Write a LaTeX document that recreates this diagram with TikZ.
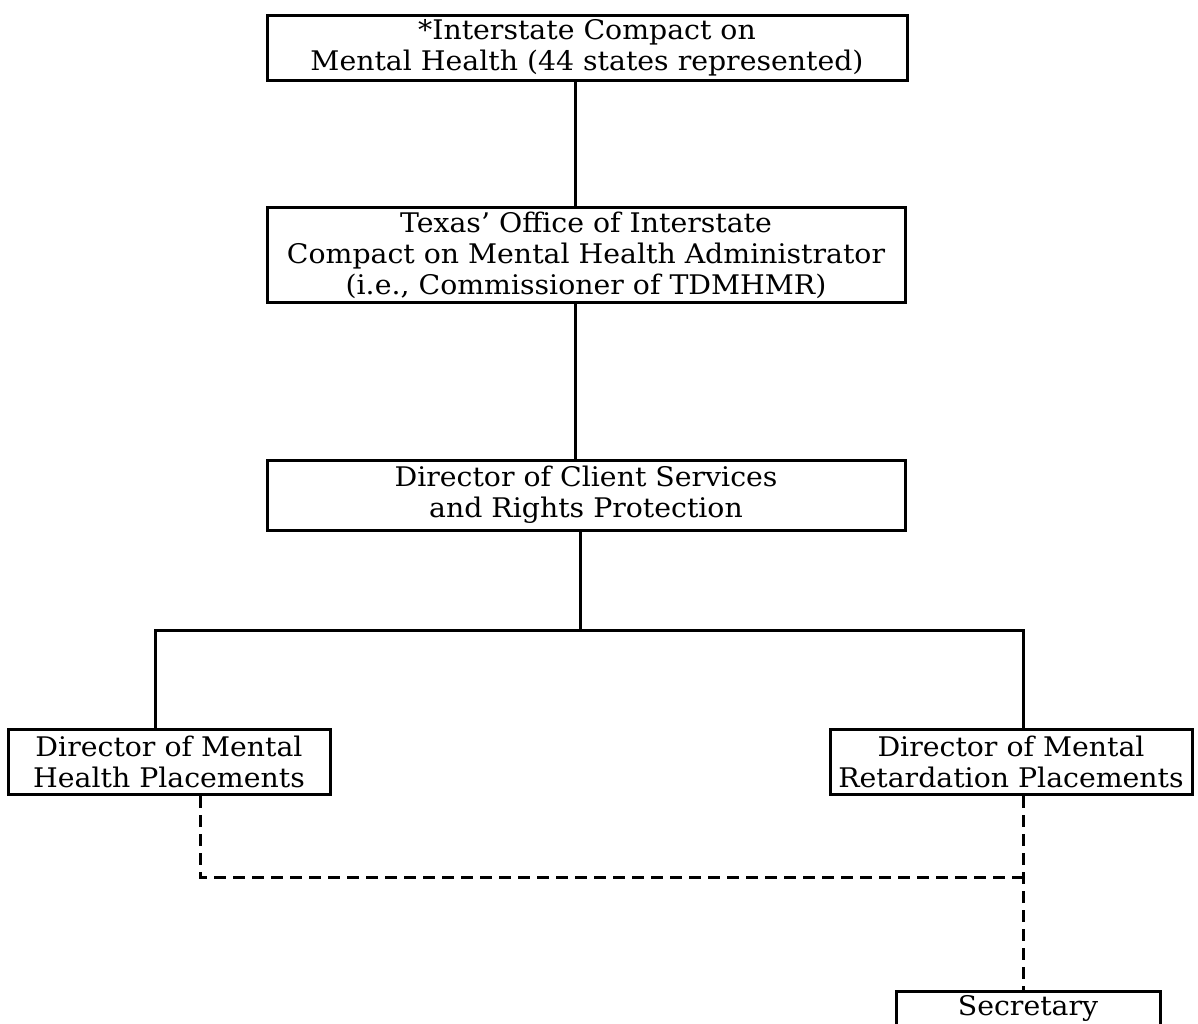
\documentclass[tikz,border=0pt]{standalone}
\usepackage{fontspec}
\setmainfont{DejaVu Serif}[FakeStretch=1.05]
\usetikzlibrary{calc}

\tikzset{
  orgbox/.style={draw, line width=3pt, align=center, inner sep=0pt,
    font=\fontsize{27}{31}\selectfont},
  link/.style={line width=3pt},
  dashlink/.style={line width=3pt, dash pattern=on 12pt off 7pt}
}

\begin{document}
\begin{tikzpicture}[x=1pt,y=-1pt]
  \useasboundingbox (0,0) rectangle (1198,1024);
  % top of the chart
  \node[orgbox, minimum width=640pt, minimum height=65pt] (compact) at (587,48)
    {*Interstate Compact on\\Mental Health (44 states represented)};
  \node[orgbox, minimum width=638pt, minimum height=95pt] (office) at (586,255)
    {Texas' Office of Interstate\\Compact on Mental Health Administrator\\(i.e., Commissioner of TDMHMR)};
  \node[orgbox, minimum width=638pt, minimum height=70pt] (client) at (586,495)
    {Director of Client Services\\and Rights Protection};
  % the two directors and the secretary
  \node[orgbox, minimum width=322pt, minimum height=65pt] (health) at (169,762)
    {Director of Mental\\Health Placements};
  \node[orgbox, minimum width=362pt, minimum height=65pt] (retard) at (1011,762)
    {Director of Mental\\Retardation Placements};
  \node[orgbox, minimum width=264pt, text height=24pt, text depth=36pt, anchor=north] (secretary) at (1028,990)
    {Secretary};
  \coordinate (barL) at (155,630);
  \coordinate (barR) at (1023,630);
  \coordinate (dashL) at (200,877);
  \coordinate (dashR) at (1023,877);
  \draw[link] (compact.south -| 575,0) -- (office.north -| 575,0);
  \draw[link] (office.south -| 575,0) -- (client.north -| 575,0);
  \draw[link] (client.south -| 580,0) -- (barL -| 580,0);
  \draw[link] (health.north -| barL) -- (barL) -- (barR) -- (retard.north -| barR);
  \draw[dashlink] (health.south -| dashL) -- (dashL) -- (dashR);
  \draw[dashlink] (retard.south -| dashR) -- (secretary.north -| dashR);
\end{tikzpicture}
\end{document}
